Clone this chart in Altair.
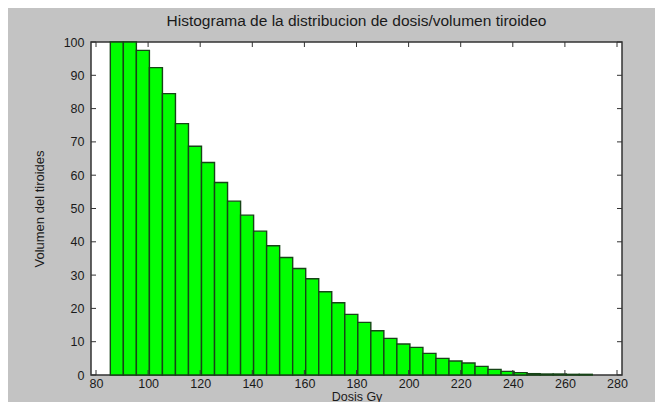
import altair as alt
import pandas as pd

# Bin centres (Gy) and cumulative thyroid volume (%)
bin_centers = [88, 93, 98, 103, 108, 113, 118, 123, 128, 133, 138, 143, 148,
               153, 158, 163, 168, 173, 178, 183, 188, 193, 198, 203, 208, 213,
               218, 223, 228, 233, 238, 243, 248, 253, 258, 263, 268]
volumen = [100, 100, 97.5, 92.3, 84.5, 75.5, 68.7, 63.8, 57.8, 52.2, 48.0,
           43.2, 38.8, 35.3, 32.0, 28.9, 25.0, 21.7, 18.2, 15.8, 13.3, 11.0,
           9.3, 8.3, 6.5, 5.0, 4.2, 3.6, 2.6, 1.7, 1.1, 0.7, 0.4, 0.3, 0.3,
           0.2, 0.2]
bin_width = 5

x_ticks = [80, 100, 120, 140, 160, 180, 200, 220, 240, 260, 280]
y_ticks = [0, 10, 20, 30, 40, 50, 60, 70, 80, 90, 100]

W, H = 531, 333
FONT = "Liberation Sans"
TXT = "#1a1a1a"

df = pd.DataFrame({"centro": bin_centers, "vol": volumen})
df["x0"] = df["centro"] - bin_width / 2
df["x1"] = df["centro"] + bin_width / 2

xt = pd.DataFrame({"t": x_ticks})
yt = pd.DataFrame({"t": y_ticks})

xscale = alt.Scale(domain=[80, 280], nice=False, zero=False)
yscale = alt.Scale(domain=[0, 100], nice=False)

xaxis = alt.Axis(values=x_ticks, title="Dosis Gy", ticks=False, tickSize=0,
                 domain=False, grid=False, labelPadding=2, labelFontSize=12.5,
                 labelFont=FONT, labelColor=TXT, titleFont=FONT,
                 titleFontSize=12.5, titleFontWeight="normal",
                 titleColor=TXT, titleY=25, titleBaseline="alphabetic",
                 labelFlush=False)
yaxis = alt.Axis(values=y_ticks, title="Volumen del tiroides", ticks=False,
                 tickSize=0, domain=False, grid=False, labelPadding=7,
                 labelFontSize=12.5, labelFont=FONT, labelColor=TXT,
                 titleFont=FONT, titleFontSize=13, titleFontWeight="normal",
                 titleColor=TXT, titlePadding=17, labelFlush=False)

bars = alt.Chart(df).mark_bar(
    fill="#00ff00", stroke="#174417", strokeWidth=1.4, orient="vertical"
).encode(
    x=alt.X("x0:Q", scale=xscale, axis=xaxis),
    x2="x1:Q",
    y=alt.Y("vol:Q", scale=yscale, axis=yaxis),
    y2=alt.datum(0),
)

tick_color = "#333333"
xb = alt.Chart(xt).mark_rule(color=tick_color, strokeWidth=1).encode(
    x=alt.X("t:Q", scale=xscale, axis=xaxis),
    y=alt.value(H), y2=alt.value(H - 5))
xtop = alt.Chart(xt).mark_rule(color=tick_color, strokeWidth=1).encode(
    x=alt.X("t:Q", scale=xscale, axis=xaxis),
    y=alt.value(0), y2=alt.value(5))
yl = alt.Chart(yt).mark_rule(color=tick_color, strokeWidth=1).encode(
    y=alt.Y("t:Q", scale=yscale, axis=yaxis),
    x=alt.value(0), x2=alt.value(5))
yr = alt.Chart(yt).mark_rule(color=tick_color, strokeWidth=1).encode(
    y=alt.Y("t:Q", scale=yscale, axis=yaxis),
    x=alt.value(W), x2=alt.value(W - 5))

chart = alt.layer(bars, xb, xtop, yl, yr).properties(
    width=W, height=H,
    autosize=alt.AutoSizeParams(type="none"),
    padding={"left": 83, "top": 34, "right": 33, "bottom": 27},
    background="#c3c3c3",
    title=alt.TitleParams(
        "Histograma de la distribucion de dosis/volumen tiroideo",
        font=FONT, fontSize=15.5, fontWeight="normal", color=TXT,
        anchor="middle", frame="group", offset=7),
).configure_view(
    fill="white", stroke="#333333", strokeWidth=1.5
)

chart.save("out.html", embed_options={"renderer": "svg", "actions": False})
